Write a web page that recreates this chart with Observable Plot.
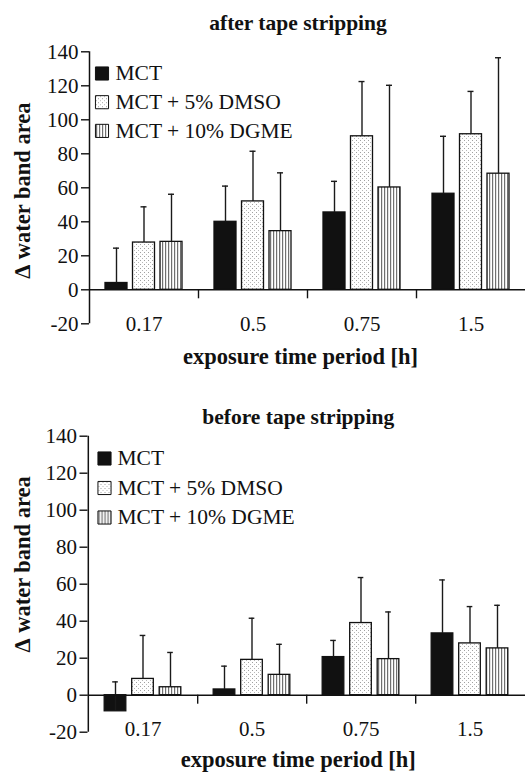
<!DOCTYPE html>
<html><head><meta charset="utf-8">
<script src="https://cdn.jsdelivr.net/npm/d3@7"></script>
<script src="https://cdn.jsdelivr.net/npm/@observablehq/plot@0.6"></script>
<style>
html,body{margin:0;padding:0;background:#fff;}
#wrap{position:relative;width:530px;height:774px;overflow:hidden;background:#fff;}
#wrap svg{position:absolute;left:0;}
#wrap svg, #wrap svg text{font-family:"Liberation Serif","Times New Roman",serif !important;}
</style></head><body><div id="wrap"></div>
<script>
// ---- data ----
const categories = ["0.17", "0.5", "0.75", "1.5"];
const seriesNames = ["MCT", "MCT + 5% DMSO", "MCT + 10% DGME"];
const yTicks = [-20, 0, 20, 40, 60, 80, 100, 120, 140];
const xLabel = "exposure time period [h]";
const yLabel = "\u2206 water band area";

// after tape stripping
const afterMCT = [4, 40, 45.5, 56.5];
const afterMCTsd = [20.5, 21, 18.3, 33.8];
const afterDMSO = [27.8, 52, 90.3, 91.5];
const afterDMSOsd = [21, 29.5, 32.2, 25.2];
const afterDGME = [28.2, 34.5, 60.2, 68.3];
const afterDGMEsd = [28, 34.3, 60.1, 68.2];

// before tape stripping
const beforeMCT = [-8.7, 3.1, 20.6, 33.4];
const beforeMCTsd = [15.9, 12.6, 9, 28.9];
const beforeDMSO = [8.8, 19.1, 39, 28];
const beforeDMSOsd = [23.5, 22.5, 24.6, 19.9];
const beforeDGME = [4.3, 11, 19.5, 25.3];
const beforeDGMEsd = [18.8, 16.5, 25.5, 23.3];

// ---- drawing ----
const W = 530;
const FONT = "Liberation Serif";
const INK = "#111";
const BW = 22, STEP = 27.5, CAP = 6;

function panel(o) {
  const B = (W - o.marginLeft - o.marginRight) / categories.length;
  const fills = [INK, `url(#dots${o.id})`, `url(#lines${o.id})`];
  const defs = () => {
    const g = document.createElementNS("http://www.w3.org/2000/svg", "defs");
    g.innerHTML = `
      <pattern id="dots${o.id}" width="4" height="4" patternUnits="userSpaceOnUse">
        <rect width="4" height="4" fill="#fff"/>
        <rect x="0" y="0" width="1" height="1" fill="#a0a0a0"/>
        <rect x="2" y="2" width="1" height="1" fill="#b8b8b8"/>
      </pattern>
      <pattern id="lines${o.id}" width="3" height="3" patternUnits="userSpaceOnUse">
        <rect width="3" height="3" fill="#fff"/>
        <rect x="0" y="0" width="1.2" height="3" fill="#707070"/>
      </pattern>`;
    return g;
  };
  const marks = [defs];
  seriesNames.forEach((name, s) => {
    const off = (s - 1) * STEP;
    const d = categories.map((c, j) => ({cat: c, value: o.values[s][j], top: o.values[s][j] + o.sds[s][j]}));
    marks.push(Plot.barY(d, {x: "cat", y: "value", insetLeft: B / 2 + off - BW / 2, insetRight: B / 2 - off - BW / 2,
      fill: fills[s], stroke: INK, strokeWidth: 1.3}));
    marks.push(Plot.ruleX(d, {x: "cat", y1: "value", y2: "top", dx: off, stroke: "#1a1a1a", strokeWidth: 1.4}));
    marks.push(Plot.tickY(d, {x: "cat", y: "top", insetLeft: B / 2 + off - CAP / 2, insetRight: B / 2 - off - CAP / 2,
      stroke: "#1a1a1a", strokeWidth: 1.4}));
  });
  // zero line and category separators
  marks.push(Plot.ruleY([0], {stroke: INK, strokeWidth: 1.5}));
  marks.push(Plot.ruleX(categories.slice(0, -1), {x: d => d, dx: B / 2, y1: 0, y2: 0, insetBottom: -9, stroke: INK, strokeWidth: 1.4}));
  // y axis line
  marks.push(Plot.ruleX([categories[0]], {x: d => d, dx: -B / 2, y1: yTicks[0], y2: yTicks[yTicks.length - 1], stroke: INK, strokeWidth: 1.5}));
  marks.push(Plot.axisY({ticks: yTicks, tickSize: 8, tickPadding: 3, fontSize: 21, fontFamily: FONT, tickFormat: d => String(d), stroke: INK, strokeWidth: 1.4, fill: INK}));
  marks.push(Plot.axisX({tickSize: 0, tickPadding: o.xTickPad, fontSize: 21, fontFamily: FONT, fill: INK, label: null}));
  // legend
  seriesNames.forEach((name, s) => {
    marks.push(Plot.dot([name], {frameAnchor: "top-left", dx: o.legSq, dy: o.legY0 + s * o.legDy, symbol: "square", r: 7.4,
      fill: fills[s], stroke: INK, strokeWidth: 1}));
    marks.push(Plot.text([name], {frameAnchor: "top-left", text: d => d, dx: o.legTx, dy: o.legY0 + s * o.legDy,
      textAnchor: "start", lineAnchor: "middle", fontSize: 21.5, fontFamily: FONT, fill: INK}));
  });
  // title, axis labels
  marks.push(Plot.text([o.title], {frameAnchor: "top", text: d => d, dx: o.titleDx, dy: o.titleDy, lineAnchor: "bottom",
    fontWeight: "bold", fontSize: 21.5, fontFamily: FONT, fill: INK}));
  marks.push(Plot.text([xLabel], {frameAnchor: "bottom", text: d => d, dx: o.xlDx, dy: o.xlDy, lineAnchor: "bottom",
    fontWeight: "bold", fontSize: 22.5, fontFamily: FONT, fill: INK}));
  marks.push(Plot.text([yLabel], {frameAnchor: "left", text: d => d, rotate: -90, dx: o.ylDx, dy: o.ylDy,
    textAnchor: "middle", lineAnchor: "middle", fontWeight: "bold", fontSize: 22.5, fontFamily: FONT, fill: INK}));

  const svg = Plot.plot({
    width: W, height: o.height,
    marginTop: o.marginTop, marginBottom: o.marginBottom, marginLeft: o.marginLeft, marginRight: o.marginRight,
    style: {fontFamily: FONT, fontSize: "21px", color: INK, background: "transparent", overflow: "visible"},
    x: {type: "band", domain: categories, padding: 0, axis: null},
    y: {domain: [yTicks[0], yTicks[yTicks.length - 1]], axis: null},
    marks
  });
  svg.style.top = o.top + "px";
  return svg;
}

const wrap = document.getElementById("wrap");
wrap.appendChild(panel({
  id: 1, top: 0, height: 390, marginTop: 51.3, marginBottom: 66.7, marginLeft: 89, marginRight: 5,
  title: "after tape stripping",
  values: [afterMCT, afterDMSO, afterDGME], sds: [afterMCTsd, afterDMSOsd, afterDGMEsd],
  xTickPad: -7.5, legSq: 12.5, legTx: 26, legY0: 21.7, legDy: 28.7,
  titleDx: -9.5, titleDy: -21.8, xlDx: -7, xlDy: 39.7, ylDx: -67, ylDy: 2.7
}));
wrap.appendChild(panel({
  id: 2, top: 390, height: 384, marginTop: 45.7, marginBottom: 42.3, marginLeft: 87.5, marginRight: 5,
  title: "before tape stripping",
  values: [beforeMCT, beforeDMSO, beforeDGME], sds: [beforeMCTsd, beforeDMSOsd, beforeDGMEsd],
  xTickPad: -11, legSq: 16.5, legTx: 29.5, legY0: 22.3, legDy: 29.5,
  titleDx: -8.5, titleDy: -12.7, xlDx: -8.5, xlDy: 34.3, ylDx: -65.5, ylDy: -20
}));
</script></body></html>
